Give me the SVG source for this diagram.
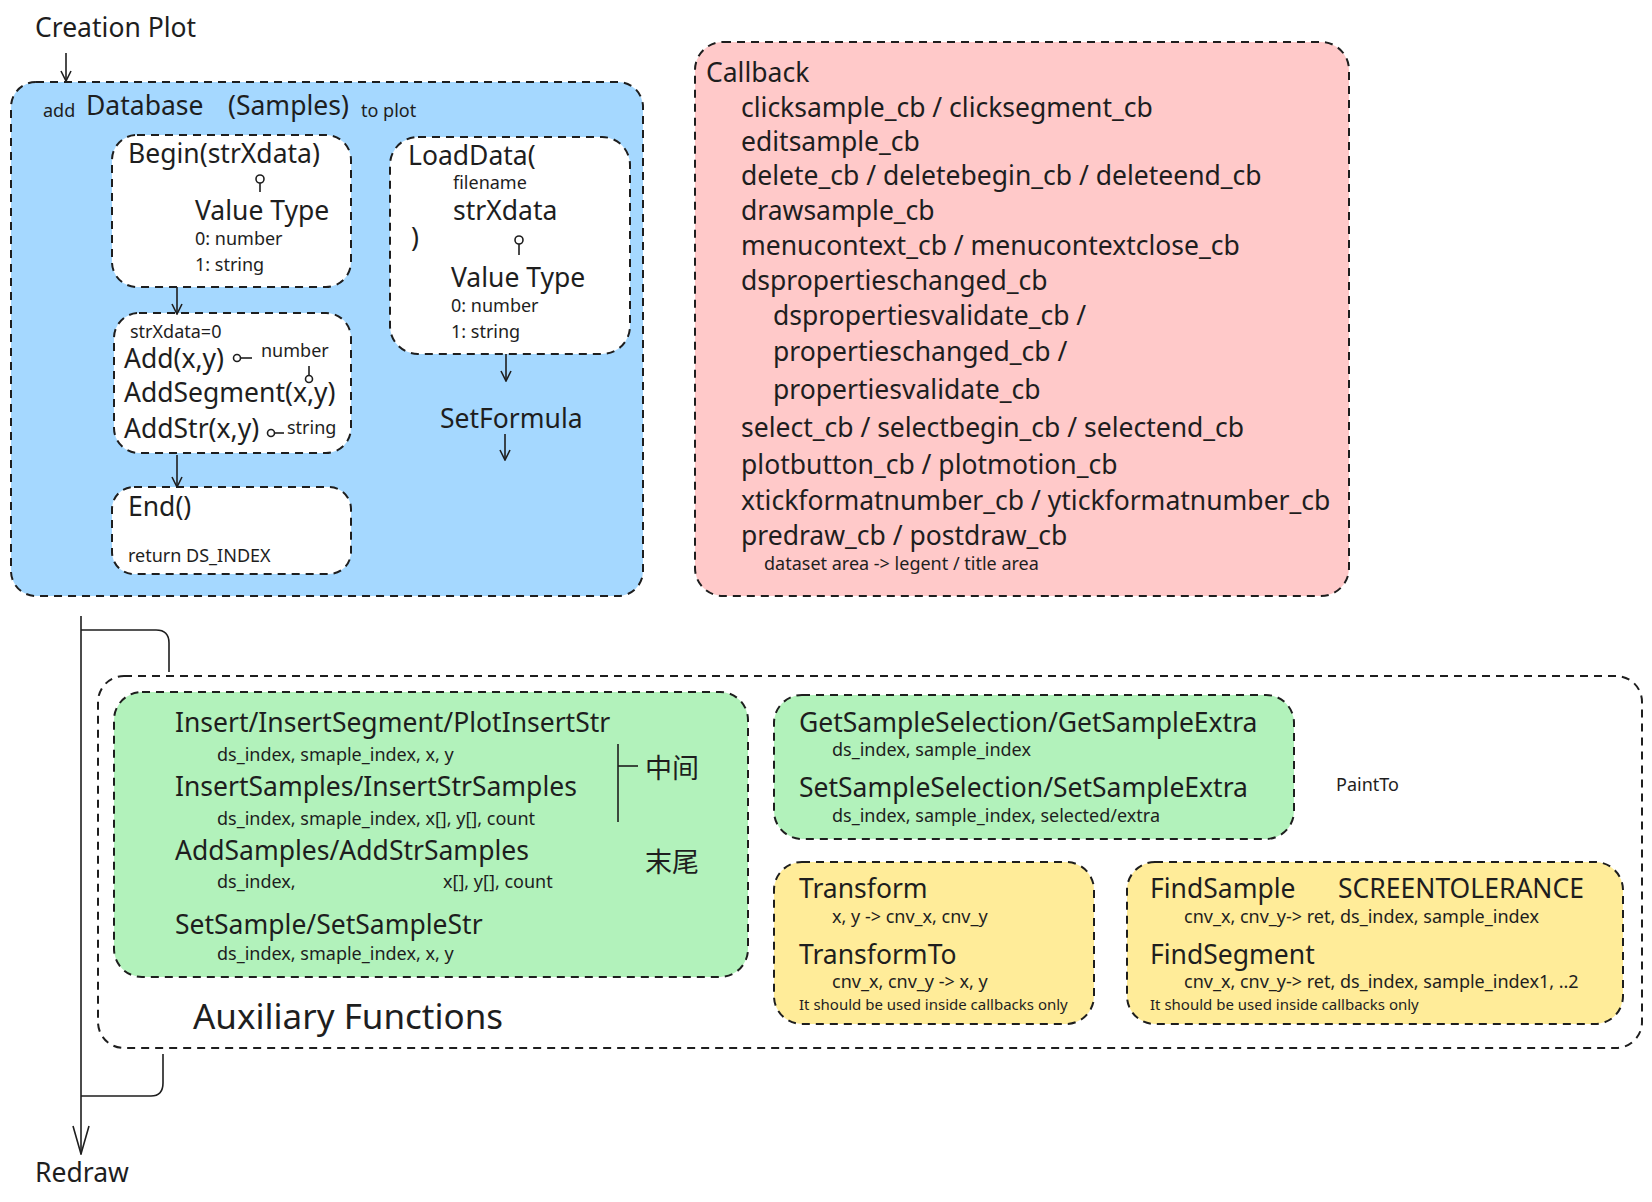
<svg xmlns="http://www.w3.org/2000/svg" width="1652" height="1202" viewBox="0 0 1652 1202">
<style>
text{font-family:"Noto Sans","Noto Sans CJK SC",sans-serif;fill:#1e1e1e}
.b{font-size:26.5px}.s{font-size:18px}.xs{font-size:15px}.cj{font-size:27px}
.box{stroke:#1e1e1e;stroke-width:2;stroke-dasharray:8 6}
.ln{stroke:#1e1e1e;stroke-width:1.6;fill:none}
</style>
<defs><marker id="a" viewBox="0 0 12 12" refX="6" refY="11" markerWidth="12" markerHeight="12" markerUnits="userSpaceOnUse"><path d="M1 1 L6 11 L11 1" fill="none" stroke="#1e1e1e" stroke-width="1.6"/></marker>
<marker id="a2" viewBox="0 0 20 30" refX="10" refY="29" markerWidth="20" markerHeight="30" markerUnits="userSpaceOnUse"><path d="M2 1 L10 29 L18 1" fill="none" stroke="#1e1e1e" stroke-width="1.6"/></marker></defs>
<rect width="1652" height="1202" fill="#fff"/>
<text x="35" y="37" class="b">Creation Plot</text>
<g id="database">
<rect class="box" x="11" y="82" width="632" height="514" rx="25" fill="#a5d8ff"/>
<text x="43" y="117" class="s">add</text><text x="86" y="115" class="b">Database</text><text x="228" y="115" class="b">(Samples)</text><text x="361" y="117" class="s">to plot</text>
</g>
<g id="begin">
<rect class="box" x="112" y="135" width="239" height="152" rx="25" fill="#fff"/>
<text x="128" y="163" class="b">Begin(strXdata)</text>
<circle cx="260" cy="179" r="4" class="ln"/><line x1="260" y1="183" x2="260" y2="192" class="ln"/>
<text x="195" y="220" class="b">Value Type</text><text x="195" y="245" class="s">0: number</text><text x="195" y="271" class="s">1: string</text>
</g>
<g id="add">
<rect class="box" x="114" y="313" width="237" height="140" rx="25" fill="#fff"/>
<text x="130" y="338" class="s">strXdata=0</text>
<text x="124" y="368" class="b">Add(x,y)</text><circle cx="237" cy="358" r="3.5" class="ln"/><line x1="241" y1="358" x2="252" y2="358" class="ln"/><text x="261" y="357" class="s">number</text>
<line x1="309" y1="366" x2="309" y2="375" class="ln"/><circle cx="309" cy="379" r="3.5" class="ln"/>
<text x="124" y="402" class="b">AddSegment(x,y)</text>
<text x="124" y="438" class="b">AddStr(x,y)</text><circle cx="271" cy="433" r="3.5" class="ln"/><line x1="275" y1="433" x2="284" y2="433" class="ln"/><text x="287" y="434" class="s">string</text>
</g>
<g id="end">
<rect class="box" x="112" y="487" width="239" height="87" rx="22" fill="#fff"/>
<text x="128" y="516" class="b">End()</text><text x="128" y="562" class="s">return DS_INDEX</text>
</g>
<g id="loaddata">
<rect class="box" x="390" y="137" width="240" height="217" rx="28" fill="#fff"/>
<text x="408" y="165" class="b">LoadData(</text><text x="453" y="189" class="s">filename</text><text x="453" y="220" class="b">strXdata</text><text x="411" y="247" class="b">)</text>
<circle cx="519" cy="240" r="4" class="ln"/><line x1="519" y1="244" x2="519" y2="255" class="ln"/>
<text x="451" y="287" class="b">Value Type</text><text x="451" y="312" class="s">0: number</text><text x="451" y="338" class="s">1: string</text>
</g>
<g id="setformula"><text x="440" y="428" class="b">SetFormula</text></g>
<g id="callback">
<rect class="box" x="695" y="42" width="654" height="554" rx="28" fill="#ffc9c9"/>
<text x="706" y="82" class="b">Callback</text>
<text x="741" y="117" class="b">clicksample_cb / clicksegment_cb</text>
<text x="741" y="151" class="b">editsample_cb</text>
<text x="741" y="185" class="b">delete_cb / deletebegin_cb / deleteend_cb</text>
<text x="741" y="220" class="b">drawsample_cb</text>
<text x="741" y="255" class="b">menucontext_cb / menucontextclose_cb</text>
<text x="741" y="290" class="b">dspropertieschanged_cb</text>
<text x="773" y="325" class="b">dspropertiesvalidate_cb /</text>
<text x="773" y="361" class="b">propertieschanged_cb /</text>
<text x="773" y="399" class="b">propertiesvalidate_cb</text>
<text x="741" y="437" class="b">select_cb / selectbegin_cb / selectend_cb</text>
<text x="741" y="474" class="b">plotbutton_cb / plotmotion_cb</text>
<text x="741" y="510" class="b">xtickformatnumber_cb / ytickformatnumber_cb</text>
<text x="741" y="545" class="b">predraw_cb / postdraw_cb</text>
<text x="764" y="570" class="s">dataset area -&gt; legent / title area</text>
</g>
<g id="auxiliary">
<rect class="box" x="98" y="676" width="1544" height="372" rx="26" fill="none"/>
<text x="193" y="1029" style="font-size:35px">Auxiliary Functions</text>
</g>
<g id="insert">
<rect class="box" x="114" y="692" width="634" height="285" rx="28" fill="#b2f2bb"/>
<text x="175" y="732" class="b">Insert/InsertSegment/PlotInsertStr</text>
<text x="217" y="761" class="s">ds_index, smaple_index, x, y</text>
<text x="175" y="796" class="b">InsertSamples/InsertStrSamples</text>
<text x="217" y="825" class="s">ds_index, smaple_index, x[], y[], count</text>
<text x="175" y="860" class="b">AddSamples/AddStrSamples</text>
<text x="217" y="888" class="s">ds_index,</text><text x="443" y="888" class="s">x[], y[], count</text>
<text x="175" y="934" class="b">SetSample/SetSampleStr</text>
<text x="217" y="960" class="s">ds_index,  smaple_index, x, y</text>
<line x1="618" y1="744" x2="618" y2="822" class="ln"/><line x1="618" y1="766" x2="638" y2="766" class="ln"/>
<text x="645" y="778" class="cj">中间</text><text x="645" y="872" class="cj">末尾</text>
</g>
<g id="selection">
<rect class="box" x="774" y="695" width="520" height="144" rx="28" fill="#b2f2bb"/>
<text x="799" y="732" class="b">GetSampleSelection/GetSampleExtra</text>
<text x="832" y="756" class="s">ds_index, sample_index</text>
<text x="799" y="797" class="b">SetSampleSelection/SetSampleExtra</text>
<text x="832" y="822" class="s">ds_index, sample_index, selected/extra</text>
</g>
<g id="paintto"><text x="1336" y="791" class="s">PaintTo</text></g>
<g id="transform">
<rect class="box" x="774" y="862" width="320" height="162" rx="28" fill="#ffec99"/>
<text x="799" y="898" class="b">Transform</text>
<text x="832" y="923" class="s">x, y -&gt; cnv_x, cnv_y</text>
<text x="799" y="964" class="b">TransformTo</text>
<text x="832" y="988" class="s">cnv_x, cnv_y -&gt; x, y</text>
<text x="799" y="1010" class="xs">It should be used inside callbacks only</text>
</g>
<g id="find">
<rect class="box" x="1127" y="862" width="496" height="162" rx="28" fill="#ffec99"/>
<text x="1150" y="898" class="b">FindSample</text><text x="1338" y="898" class="b">SCREENTOLERANCE</text>
<text x="1184" y="923" class="s">cnv_x, cnv_y-&gt; ret, ds_index, sample_index</text>
<text x="1150" y="964" class="b">FindSegment</text>
<text x="1184" y="988" class="s">cnv_x, cnv_y-&gt; ret, ds_index, sample_index1, ..2</text>
<text x="1150" y="1010" class="xs">It should be used inside callbacks only</text>
</g>
<text x="35" y="1182" class="b">Redraw</text>
<g id="connectors">
<line x1="66" y1="53" x2="66" y2="81" class="ln" marker-end="url(#a)"/>
<line x1="177" y1="287" x2="177" y2="314" class="ln" marker-end="url(#a)"/>
<line x1="177" y1="455" x2="177" y2="487" class="ln" marker-end="url(#a)"/>
<line x1="506" y1="354" x2="506" y2="381" class="ln" marker-end="url(#a)"/>
<line x1="505" y1="434" x2="505" y2="460" class="ln" marker-end="url(#a)"/>
<line x1="81" y1="616" x2="81" y2="1154" class="ln" marker-end="url(#a2)"/>
<path d="M81 630 H156 Q169 630 169 643 V672" class="ln"/>
<path d="M163 1054 V1083 Q163 1096 151 1096 H81" class="ln"/>
</g>
</svg>
